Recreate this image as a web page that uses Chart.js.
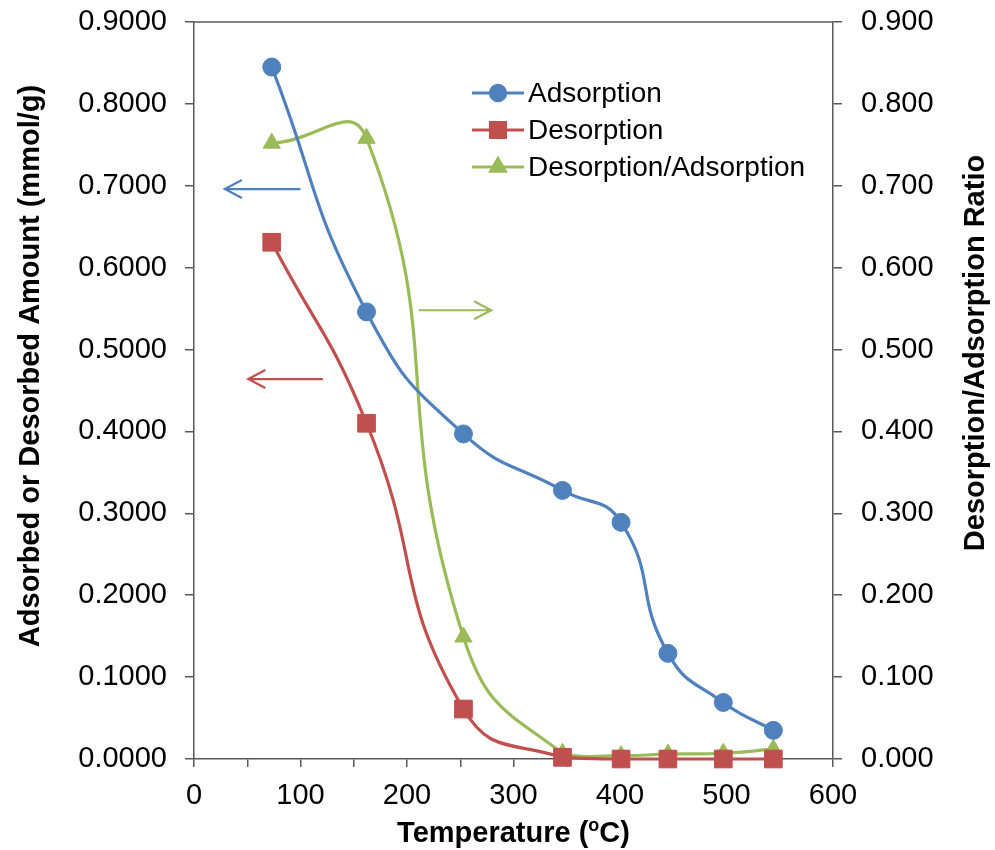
<!DOCTYPE html>
<html>
<head>
<meta charset="utf-8">
<script src="https://cdn.jsdelivr.net/npm/chart.js@4.4.1/dist/chart.umd.min.js"></script>
<style>
  html, body { margin: 0; padding: 0; background: #fff; }
</style>
</head>
<body>
<canvas id="chart" width="995" height="850"></canvas>
<script>
// ---- data ----
const temps      = [73, 162, 253, 346, 401, 445, 497, 544];
const adsorption = [0.845, 0.546, 0.397, 0.328, 0.289, 0.129, 0.069, 0.035];
const desorption = [0.631, 0.410, 0.061, 0.002, 0.000, 0.000, 0.000, 0.000];
const ratio      = [0.752, 0.758, 0.149, 0.007, 0.004, 0.006, 0.007, 0.012];

const seriesNames = ["Adsorption", "Desorption", "Desorption/Adsorption"];
const xTitle = "Temperature (";
const leftTitle = "Adsorbed or Desorbed Amount (mmol/g)";
const rightTitle = "Desorption/Adsorption Ratio";

// arrows pointing at each series' axis
const arrows = [
  { from: 100, to: 29,  y: 0.696, axis: "y",  color: "#4F81BD" },
  { from: 121, to: 51,  y: 0.464, axis: "y",  color: "#C0504D" },
  { from: 211, to: 279, y: 0.548, axis: "y2", color: "#9BBB59" }
];

const FONT = "'Liberation Sans', Arial, sans-serif";
const AXIS = "#595959";
const BLUE = "#4F81BD", RED = "#C0504D", GREEN = "#9BBB59";

function pts(vals) { return temps.map((t, i) => ({ x: t, y: vals[i] })); }

// keep the plot box where the reference has it
function fixY(width) {
  return s => { s.width = width; s.paddingTop = 0; s.paddingBottom = 0; };
}

const extras = {
  id: "extras",
  afterDraw(chart) {
    const ctx = chart.ctx;
    const a = chart.chartArea;
    const xs = chart.scales.x;

    // top frame line
    ctx.save();
    ctx.strokeStyle = AXIS;
    ctx.lineWidth = 1.5;
    ctx.beginPath();
    ctx.moveTo(a.left, a.top);
    ctx.lineTo(a.right, a.top);
    ctx.stroke();

    // arrows
    arrows.forEach(ar => {
      const ys = chart.scales[ar.axis];
      const x1 = xs.getPixelForValue(ar.from);
      const x2 = xs.getPixelForValue(ar.to);
      const y = ys.getPixelForValue(ar.y);
      const dir = x2 < x1 ? 1 : -1;
      ctx.strokeStyle = ar.color;
      ctx.lineWidth = 2.2;
      ctx.beginPath();
      ctx.moveTo(x1, y);
      ctx.lineTo(x2, y);
      ctx.moveTo(x2 + dir * 17, y - 9);
      ctx.lineTo(x2, y);
      ctx.lineTo(x2 + dir * 17, y + 9);
      ctx.stroke();
    });

    // legend inside the plot
    const lx = a.left + 278, ly = a.top + 71, gap = 37;
    chart.data.datasets.forEach((ds, i) => {
      const y = ly + i * gap;
      ctx.strokeStyle = ds.borderColor;
      ctx.lineWidth = 3;
      ctx.beginPath();
      ctx.moveTo(lx, y);
      ctx.lineTo(lx + 52, y);
      ctx.stroke();
      ctx.fillStyle = ds.borderColor;
      Chart.helpers.drawPoint(ctx, {
        pointStyle: ds.pointStyle,
        radius: ds.pointRadius * 0.85,
        borderWidth: 1
      }, lx + 26, y);
      ctx.fillStyle = "#000";
      ctx.font = "28px " + FONT;
      ctx.textAlign = "left";
      ctx.textBaseline = "middle";
      ctx.fillText(seriesNames[i], lx + 56, y + 1);
    });

    // axis titles
    ctx.fillStyle = "#000";
    ctx.font = "bold 29px " + FONT;
    ctx.textBaseline = "middle";
    ctx.textAlign = "center";

    ctx.save();
    ctx.translate(31, 366);
    ctx.rotate(-Math.PI / 2);
    ctx.fillText(leftTitle, 0, 0);
    ctx.restore();

    ctx.save();
    ctx.translate(976, 353);
    ctx.rotate(-Math.PI / 2);
    ctx.fillText(rightTitle, 0, 0);
    ctx.restore();

    // x title with superscript o
    const big = "bold 29px " + FONT, small = "bold 18px " + FONT;
    ctx.font = big;
    const w1 = ctx.measureText(xTitle).width;
    const w3 = ctx.measureText("C)").width;
    ctx.font = small;
    const w2 = ctx.measureText("o").width;
    let x = (a.left + a.right) / 2 - (w1 + w2 + w3) / 2;
    const ty = 834;
    ctx.textAlign = "left";
    ctx.font = big;
    ctx.fillText(xTitle, x, ty);
    x += w1;
    ctx.font = small;
    ctx.fillText("o", x, ty - 8);
    x += w2;
    ctx.font = big;
    ctx.fillText("C)", x, ty);
    ctx.restore();
  }
};

new Chart(document.getElementById("chart"), {
  type: "line",
  data: {
    datasets: [
      {
        data: pts(adsorption), yAxisID: "y",
        borderColor: BLUE, backgroundColor: BLUE,
        pointStyle: "circle", pointRadius: 9,
        pointBackgroundColor: BLUE, pointBorderColor: BLUE, pointBorderWidth: 1
      },
      {
        data: pts(desorption), yAxisID: "y",
        borderColor: RED, backgroundColor: RED,
        pointStyle: "rect", pointRadius: 12.5,
        pointBackgroundColor: RED, pointBorderColor: RED, pointBorderWidth: 1
      },
      {
        data: pts(ratio), yAxisID: "y2",
        borderColor: GREEN, backgroundColor: GREEN,
        pointStyle: "triangle", pointRadius: 10,
        pointBackgroundColor: GREEN, pointBorderColor: GREEN, pointBorderWidth: 1
      }
    ]
  },
  options: {
    responsive: false,
    animation: false,
    layout: { padding: { top: 22, left: 0, right: 0, bottom: 0 } },
    elements: { line: { borderWidth: 3.2, tension: 0.5, fill: false, capBezierPoints: true } },
    datasets: { line: { clip: false } },
    plugins: { legend: { display: false }, tooltip: { enabled: false } },
    scales: {
      x: {
        type: "linear", min: 0, max: 600,
        afterFit: s => { s.height = 91; s.paddingLeft = 0; s.paddingRight = 0; },
        border: { display: true, color: AXIS, width: 1.5 },
        grid: { drawOnChartArea: false, drawTicks: true, tickLength: 8, color: AXIS, lineWidth: 1.5 },
        ticks: {
          stepSize: 50, autoSkip: false, maxRotation: 0, padding: 12,
          color: "#000", font: { family: FONT, size: 29 },
          callback: v => (v % 100 === 0 ? String(v) : "")
        }
      },
      y: {
        position: "left", min: 0, max: 0.9,
        afterFit: fixY(194),
        border: { display: true, color: AXIS, width: 1.5 },
        grid: { drawOnChartArea: false, drawTicks: true, tickLength: 9, color: AXIS, lineWidth: 1.5 },
        ticks: {
          stepSize: 0.1, padding: 18,
          color: "#000", font: { family: FONT, size: 29 },
          callback: v => v.toFixed(4)
        }
      },
      y2: {
        position: "right", min: 0, max: 0.9,
        afterFit: fixY(162),
        border: { display: true, color: AXIS, width: 1.5 },
        grid: { drawOnChartArea: false, drawTicks: true, tickLength: 9, color: AXIS, lineWidth: 1.5 },
        ticks: {
          stepSize: 0.1, padding: 19,
          color: "#000", font: { family: FONT, size: 29 },
          callback: v => v.toFixed(3)
        }
      }
    }
  },
  plugins: [extras]
});
</script>
</body>
</html>
